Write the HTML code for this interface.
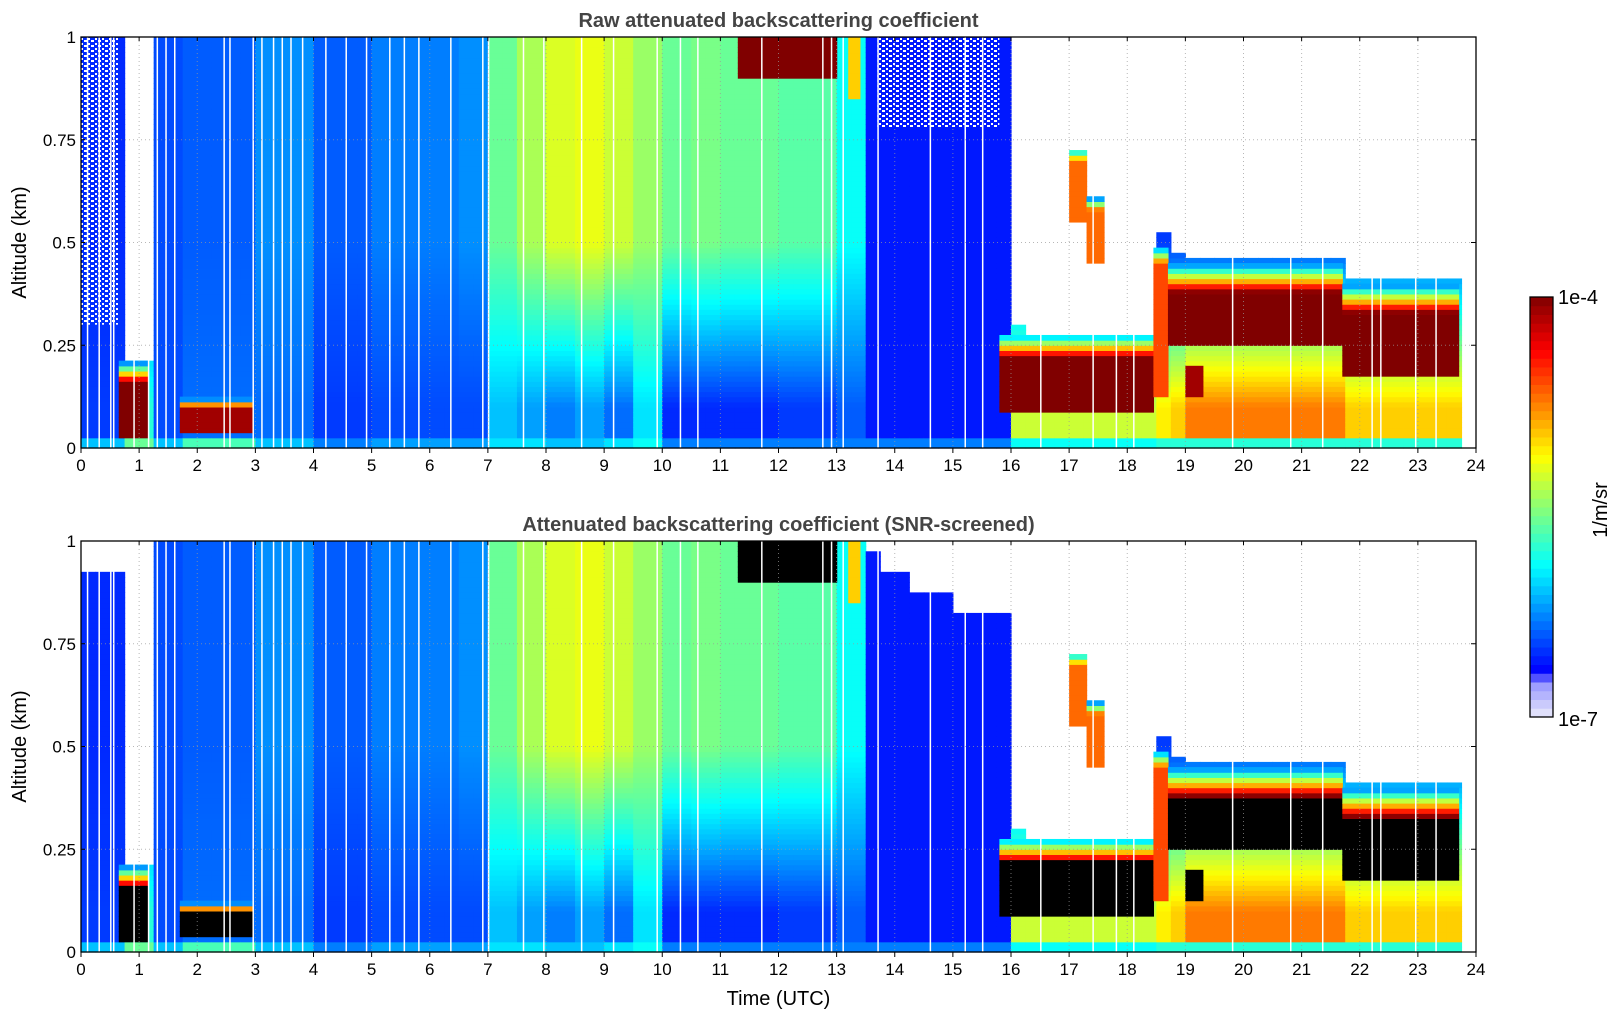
<!DOCTYPE html>
<html><head><meta charset="utf-8">
<style>
html,body{margin:0;padding:0;background:#fff;}
svg{display:block;font-family:"Liberation Sans","DejaVu Sans",sans-serif;}
</style></head>
<body>
<svg id="fig" width="1621" height="1020" viewBox="0 0 1621 1020" xmlns="http://www.w3.org/2000/svg">
<defs>
<pattern id="noise" width="7" height="5" patternUnits="userSpaceOnUse">
<rect x="0" y="0" width="3" height="2" fill="#fff"/>
<rect x="4" y="3" width="2" height="2" fill="#fff"/>
</pattern>
</defs>
</svg>
<script>
// ---- data: per quarter-hour bin (96 bins), log10 backscatter ----
const binHours = Array.from({length:96},(_, i)=>i*0.25);
const upperVal = [-6.55,-6.55,-6.55,-6.5,-6.5,-6.45,-6.45,-6.4,-6.4,-6.4,-6.4,-6.4,-6.25,-6.25,-6.25,-6.25,
-6.4,-6.4,-6.4,-6.4,-6.3,-6.3,-6.3,-6.3,-6.3,-6.3,-6.25,-6.25,-5.6,-5.6,-5.4,-5.4,
-5.25,-5.25,-5.2,-5.2,-5.3,-5.3,-5.45,-5.45,-5.6,-5.6,-5.55,-5.55,-5.6,-5.6,-5.6,-5.6,
-5.65,-5.65,-5.65,-5.65,-5.9,-5.9,-6.6,-6.6,-6.6,-6.6,-6.6,-6.6,-6.6,-6.6,-6.6,-6.6,
-6.5,-6.5,-6.5,-6.5,-6.5,-6.5,-6.5,-6.5,-6.5,-6.5,-6.5,-6.5,-6.5,-6.5,-6.5,-6.5,
-6.5,-6.5,-6.5,-6.5,-6.5,-6.5,-6.5,-6.5,-6.5,-6.5,-6.5,-6.5,-6.5,-6.5,-6.5,-6.5];
const lowerVal = [-6.5,-6.5,-6.5,-5.8,-5.8,-6.45,-6.45,-6.35,-6.35,-6.35,-6.35,-6.35,-6.35,-6.35,-6.35,-6.35,
-6.5,-6.5,-6.5,-6.5,-6.45,-6.45,-6.45,-6.45,-6.45,-6.45,-6.45,-6.45,-6.1,-6.1,-6.2,-6.2,
-6.3,-6.3,-6.2,-6.2,-6.35,-6.35,-6.0,-6.0,-6.55,-6.55,-6.55,-6.55,-6.55,-6.55,-6.55,-6.55,
-6.5,-6.5,-6.5,-6.5,-6.4,-6.4,-6.6,-6.6,-6.6,-6.6,-6.6,-6.6,-6.6,-6.6,-6.6,-6.6,
-5.3,-5.3,-5.3,-5.3,-5.3,-5.3,-5.3,-5.3,-5.3,-5.3,-5.1,-5.0,-4.75,-4.75,-4.75,-4.75,
-4.75,-4.75,-4.75,-4.75,-4.75,-4.75,-4.75,-5.0,-5.0,-5.0,-5.0,-5.0,-5.0,-5.0,-5.0,-5.0];
const surfVal = [-6.1,-6.1,-6.1,-5.6,-5.6,-6.1,-6.1,-5.7,-5.7,-5.7,-5.7,-5.7,-6.1,-6.1,-6.1,-6.1,
-6.3,-6.3,-6.3,-6.3,-6.2,-6.2,-6.2,-6.2,-6.2,-6.2,-6.2,-6.2,-6.0,-6.0,-6.0,-6.0,
-6.1,-6.1,-6.1,-6.1,-6.0,-6.0,-5.9,-5.9,-6.3,-6.3,-6.3,-6.3,-6.3,-6.3,-6.3,-6.3,
-6.3,-6.3,-6.3,-6.3,-6.3,-6.3,-6.3,-6.3,-6.3,-6.3,-6.3,-6.3,-6.3,-6.3,-6.3,-6.3,
-5.9,-5.9,-5.9,-5.9,-5.9,-5.9,-5.9,-5.9,-5.9,-5.9,-5.8,-5.8,-5.8,-5.8,-5.8,-5.8,
-5.8,-5.8,-5.8,-5.8,-5.8,-5.8,-5.8,-5.8,-5.8,-5.8,-5.8,-5.8,-5.8,-5.8,-5.8,-5.8];
const sigTop = [1,1,1,0.21,0.21,1,1,1,1,1,1,1,1,1,1,1,
1,1,1,1,1,1,1,1,1,1,1,1,1,1,1,1,
1,1,1,1,1,1,1,1,1,1,1,1,1,1,1,1,
1,1,1,1,1,1,1,1,1,1,1,1,1,1,1,1,
0.3,0.27,0.27,0.27,0.27,0.27,0.27,0.27,0.27,0.27,0.52,0.47,0.46,0.46,0.46,0.46,
0.46,0.46,0.46,0.46,0.46,0.46,0.46,0.41,0.41,0.41,0.41,0.41,0.41,0.41,0.41,0];
const screenTop = [0.93,0.93,0.93,0.21,0.21,1,1,1,1,1,1,1,1,1,1,1,
1,1,1,1,1,1,1,1,1,1,1,1,1,1,1,1,
1,1,1,1,1,1,1,1,1,1,1,1,1,1,1,1,
1,1,1,1,1,1,0.97,0.92,0.92,0.88,0.88,0.88,0.82,0.82,0.82,0.82,
0.3,0.27,0.27,0.27,0.27,0.27,0.27,0.27,0.27,0.27,0.52,0.47,0.46,0.46,0.46,0.46,
0.46,0.46,0.46,0.46,0.46,0.46,0.46,0.41,0.41,0.41,0.41,0.41,0.41,0.41,0.41,0];
// dense layers (clouds / aerosol)
const layerT0 = [0.65,1.7,11.3,13.2,15.8,18.45,18.7,21.7,17.0,17.3,19.0];
const layerT1 = [1.15,2.95,13.0,13.4,18.45,18.7,21.7,23.7,17.3,17.6,19.3];
const layerBot = [0.03,0.04,0.9,0.85,0.09,0.12,0.25,0.18,0.55,0.45,0.13];
const layerTop = [0.16,0.10,1.0,1.0,0.22,0.45,0.38,0.33,0.7,0.58,0.2];
const layerVal = [-4.0,-4.1,-4.0,-5.0,-4.0,-4.6,-4.0,-4.0,-4.7,-4.7,-4.1];
const layerFringe = [0.05,0.02,0.0,0.02,0.06,0.04,0.07,0.07,0.03,0.03,0.0];
// noisy raw regions
const noiseT0 = [0,13.7];
const noiseT1 = [0.65,15.8];
const noiseBot = [0.3,0.78];
// data gaps
const gapTimes = [0.1,0.3,0.5,0.55,0.9,1.15,1.3,1.45,1.6,2.45,2.55,2.95,3.1,3.3,3.45,3.6,3.8,4.2,4.55,4.9,5.3,5.55,5.8,6.35,6.9,7.0,7.6,7.95,8.6,9.15,9.9,10.3,10.6,11.7,12.75,12.9,13.1,13.7,14.6,15.2,15.5,16.5,17.4,17.8,18.1,19.8,20.8,21.35,22.2,22.35,22.95,23.3];
const xTicks = Array.from({length:25},(_, i)=>i);
const yTicks = [0,0.25,0.5,0.75,1];
const yTickLabels = ["0","0.25","0.5","0.75","1"];

const NS="http://www.w3.org/2000/svg";
const svg=document.getElementById('fig');
function el(tag,attrs,parent){const e=document.createElementNS(NS,tag);for(const k in attrs)e.setAttribute(k,attrs[k]);(parent||svg).appendChild(e);return e;}

const stops=[[0,[235,235,250]],[0.08,[150,150,255]],[0.11,[0,0,255]],[0.36,[0,255,255]],[0.49,[128,255,128]],[0.62,[255,255,0]],[0.87,[255,0,0]],[1,[128,0,0]]];
function cmap(l){let v=Math.max(0,Math.min(1,(l+7)/3));for(let k=1;k<stops.length;k++){if(v<=stops[k][0]){const a=stops[k-1],b=stops[k];const f=(v-a[0])/(b[0]-a[0]);const c=a[1].map((x,j)=>Math.round(x+(b[1][j]-x)*f));return `rgb(${c[0]},${c[1]},${c[2]})`;}}return 'rgb(128,0,0)';}

const X0=81,X1=1476,H=411;
const NR=80;
function drawPanel(yTop,screened,title,panelName){
  const g=el('g',{},svg);
  
  
  const xs=t=>X0+(t/24)*(X1-X0);
  const ys=z=>yTop+H-z*H;
  const cells=el('g',{},g);
  
  
  const top=screened?screenTop:sigTop;
  for(let i=0;i<binHours.length;i++){
    const x=xs(binHours[i]),w=xs(binHours[i]+0.25)-x;
    for(let r=0;r<NR;r++){
      const z=(r+0.5)/NR;
      if(z>top[i])continue;
      let l;
      if(z<0.025)l=surfVal[i];
      else{const f=Math.max(0,Math.min(1,(z-0.1)/0.4));l=lowerVal[i]+(upperVal[i]-lowerVal[i])*f;}
      const c=el('rect',{x:x.toFixed(2),y:ys((r+1)/NR).toFixed(2),width:(w+0.6).toFixed(2),height:(H/NR+0.6).toFixed(2),fill:cmap(l)},cells);
      
      
    }
  }
  for(let k=0;k<layerT0.length;k++){
    const x=xs(layerT0[k]),w=xs(layerT1[k])-x;
    const zTop=layerTop[k]+layerFringe[k];
    for(let r=0;r<NR;r++){
      const z=(r+0.5)/NR;
      if(z<layerBot[k]||z>zTop)continue;
      let l,fill;
      if(z<=layerTop[k]){l=layerVal[k];fill=(screened&&l>=-4.2)?'#000':cmap(l);}
      else{const f=(z-layerTop[k])/layerFringe[k];l=layerVal[k]+(-6.4-layerVal[k])*f;fill=cmap(l);}
      const c=el('rect',{x:x.toFixed(2),y:ys((r+1)/NR).toFixed(2),width:(w+0.6).toFixed(2),height:(H/NR+0.6).toFixed(2),fill:fill},cells);
      
      
    }
  }
  if(!screened){
    for(let k=0;k<noiseT0.length;k++){
      const n=el('rect',{x:xs(noiseT0[k]),y:yTop,width:xs(noiseT1[k])-xs(noiseT0[k]),height:ys(noiseBot[k])-yTop,fill:'url(#noise)'},g);
      
      
    }
  }
  for(const t of gapTimes){
    const gl=el('rect',{x:xs(t).toFixed(2),y:yTop,width:1.5,height:H,fill:'#fff'},g);
    
    
  }
  for(const t of xTicks){if(t===0||t===24)continue;
    const gl=el('line',{x1:xs(t),x2:xs(t),y1:yTop,y2:yTop+H,stroke:'#999','stroke-width':1,'stroke-dasharray':'1,3',opacity:0.7},g);
    }
  for(const z of yTicks){if(z===0||z===1)continue;
    const gl=el('line',{x1:X0,x2:X1,y1:ys(z),y2:ys(z),stroke:'#999','stroke-width':1,'stroke-dasharray':'1,3',opacity:0.7},g);
    }
  const fr=el('rect',{x:X0,y:yTop,width:X1-X0,height:H,fill:'none',stroke:'#000','stroke-width':1.3},g);
  
  for(const t of xTicks){
    const tk=el('line',{x1:xs(t),x2:xs(t),y1:yTop+H,y2:yTop+H+5,stroke:'#000'},g);
    
    el('line',{x1:xs(t),x2:xs(t),y1:yTop,y2:yTop+4,stroke:'#000'},g);
    const tx=el('text',{x:xs(t),y:yTop+H+23,'font-size':17,'text-anchor':'middle',fill:'#000'},g);
    tx.textContent=String(t);
    
  }
  yTicks.forEach((z,j)=>{
    el('line',{x1:X1,x2:X1-5,y1:ys(z),y2:ys(z),stroke:'#000'},g);
    el('line',{x1:X0,x2:X0+4,y1:ys(z),y2:ys(z),stroke:'#000'},g);
    const tx=el('text',{x:X0-5,y:ys(z)+6,'font-size':17,'text-anchor':'end',fill:'#000'},g);
    tx.textContent=yTickLabels[j];
    
  });
  const yl=el('text',{x:0,y:0,'font-size':20,'text-anchor':'middle',transform:`translate(26,${yTop+H/2}) rotate(-90)`,fill:'#000'},g);
  yl.textContent='Altitude (km)';
  
  const tt=el('text',{x:(X0+X1)/2,y:yTop-10,'font-size':20,'font-weight':'bold','text-anchor':'middle',fill:'#444'},g);
  tt.textContent=title;
  
}
drawPanel(37,false,'Raw attenuated backscattering coefficient','raw-panel');
drawPanel(541,true,'Attenuated backscattering coefficient (SNR-screened)','screened-panel');
const xl=el('text',{x:(X0+X1)/2,y:1005,'font-size':20,'text-anchor':'middle',fill:'#000'});
xl.textContent='Time (UTC)';


const cb=el('g',{});


const CB0=297,CB1=717,NS_=48;
for(let s=0;s<NS_;s++){
  const l=-7+3*(s+0.5)/NS_;
  const y=CB1-(s+1)*(CB1-CB0)/NS_;
  el('rect',{x:1530,y:y.toFixed(2),width:23,height:((CB1-CB0)/NS_+0.5).toFixed(2),fill:cmap(l)},cb);
}
el('rect',{x:1530,y:CB0,width:23,height:CB1-CB0,fill:'none',stroke:'#000','stroke-width':1.3},cb);
const c1=el('text',{x:1558,y:CB0+7,'font-size':20,fill:'#000'},cb);c1.textContent='1e-4';

const c2=el('text',{x:1558,y:CB1+9,'font-size':20,fill:'#000'},cb);c2.textContent='1e-7';

const c3=el('text',{x:0,y:0,'font-size':20,'text-anchor':'middle',transform:'translate(1607,510) rotate(-90)',fill:'#000'},cb);c3.textContent='1/m/sr';

</script>
</body></html>
